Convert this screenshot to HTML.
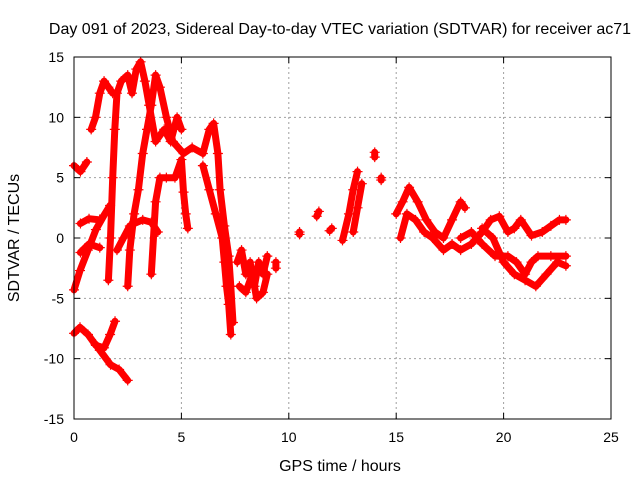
<!DOCTYPE html>
<html><head><meta charset="utf-8"><style>
body{margin:0;background:#fff}
svg text{font-family:"Liberation Sans",sans-serif;font-size:14px;fill:#000}
svg text.big{font-size:16px}
</style></head><body>
<svg id="c" width="640" height="480">
<rect width="640" height="480" fill="#fff"/>
<g id="grid"></g><g id="marks"></g><g id="axes"></g>
<text class="big" x="340" y="34" text-anchor="middle">Day 091 of 2023, Sidereal Day-to-day VTEC variation (SDTVAR) for receiver ac71</text>
<text class="big" x="340" y="471" text-anchor="middle">GPS time / hours</text>
<text class="big" transform="translate(19,238) rotate(-90)" text-anchor="middle">SDTVAR / TECUs</text>
</svg>
<script>
const xTicks=[0,5,10,15,20,25];
const yTicks=[-15,-10,-5,0,5,10,15];
const traceA1=[[0,-7.9],[0.28,-7.4],[0.65,-8.0],[1.02,-8.9],[1.4,-9.1],[1.68,-8.0],[1.91,-6.9]];
const traceA2=[[1.0,-8.8],[1.2,-9.3],[1.7,-10.5],[2.1,-10.9],[2.5,-11.8]];
const traceB1=[[0,-4.3],[0.28,-2.7],[0.65,-1],[1.02,0.7],[1.4,1.9],[1.68,2.7]];
const traceB2=[[0,6],[0.3,5.5],[0.6,6.3]];
const traceB3=[[0.3,1.2],[0.7,1.6],[1.2,1.5]];
const traceB4=[[0.3,-1.2],[0.7,-0.5],[1.2,-0.8]];
const traceC=[[1.6,-3.5],[1.7,0],[1.8,5],[1.9,9],[2.0,12],[2.2,13],[2.5,13.5],[2.7,12],[2.9,14],[3.1,14.6],[3.3,13],[3.5,11],[3.8,8],[4.2,9],[4.5,8],[4.8,10],[5.0,9]];
const traceD=[[2.5,-4],[2.6,-1],[2.8,2],[3.0,4],[3.2,7],[3.4,9],[3.6,11],[3.8,13.5],[4.0,12.5],[4.3,10],[4.6,8],[5.1,7],[5.5,7.5],[6.0,7],[6.3,9],[6.5,9.5],[6.7,7],[6.8,4],[7.0,1],[7.2,-1.5],[7.3,-4],[7.4,-7]];
const traceE=[[2.0,-1],[2.3,0],[2.6,1],[2.8,1.2],[3.2,1.5],[3.6,1.3],[3.9,0.5]];
const traceF=[[3.6,-3],[3.8,3],[4.0,5],[4.3,5],[4.7,5],[5.0,6.5],[5.1,3.8],[5.2,2],[5.3,0.8]];
const traceG=[[6.0,6],[6.3,4],[6.6,2],[6.9,0],[7.0,-2],[7.1,-4],[7.2,-5.5],[7.3,-8]];
const traceH=[[0.8,9],[1.0,10],[1.2,12],[1.4,13],[1.6,12.5],[1.8,12]];
const traceM=[[7.6,-2],[7.8,-1],[8.0,-3],[8.2,-2],[8.4,-4],[8.6,-2],[8.8,-3],[9.0,-1.5]];
const traceM2=[[7.7,-4],[8.0,-4.5],[8.3,-3],[8.5,-5],[8.8,-4.5],[9.0,-3]];
const traceN=[[9.4,-2],[9.4,-2.5]];
const traceO=[[10.5,0.5],[10.5,0.3]];
const traceP=[[11.3,1.8],[11.4,2.2]];
const traceQ=[[11.9,0.6],[12.0,0.8]];
const traceR=[[12.5,-0.2],[12.8,2],[13.0,4],[13.2,5.5]];
const traceS=[[13.0,0.5],[13.2,2.5],[13.4,4.5]];
const traceT=[[14.0,7.1],[14.0,6.7]];
const traceU=[[14.3,5],[14.3,4.8]];
const traceI=[[15.0,2],[15.3,3],[15.6,4.2],[16.0,3],[16.4,1.5],[16.8,0.5],[17.2,0],[17.6,1.5],[18.0,3],[18.2,2.5]];
const traceJ=[[15.2,0],[15.5,2],[15.9,1.5],[16.3,0.5],[16.7,0],[17.2,-1],[17.6,-0.5],[18.0,-1],[18.5,-0.5],[19.0,0.5],[19.4,1.5],[19.8,1.8],[20.2,0.5],[20.5,0.8],[20.8,1.5],[21.3,0.2],[21.8,0.5],[22.2,1],[22.6,1.5],[22.9,1.5]];
const traceK=[[18.0,0],[18.5,0.5],[19.0,-0.5],[19.6,-1.5],[20.2,-1.5],[20.6,-2],[21.0,-3],[21.3,-2],[21.6,-1.5],[22.2,-1.5],[22.9,-1.5]];
const traceL=[[19.0,0.8],[19.5,0],[20.0,-2],[20.5,-3],[21.0,-3.5],[21.5,-4],[22.0,-3],[22.5,-2],[22.9,-2.3]];
const traces=[traceA1,traceA2,traceB1,traceB2,traceB3,traceB4,traceC,traceD,traceE,traceF,traceG,traceH,traceM,traceM2,traceN,traceO,traceP,traceQ,traceR,traceS,traceT,traceU,traceI,traceJ,traceK,traceL];

const X0=74,X1=611,Y0=419,Y1=57;
const sx=h=>X0+(h-0)/(25-0)*(X1-X0);
const sy=v=>Y0-(v+15)/30*(Y0-Y1);
const NS='http://www.w3.org/2000/svg';
function mk(tag,attrs,parent){const e=document.createElementNS(NS,tag);for(const k in attrs)e.setAttribute(k,attrs[k]);parent.appendChild(e);return e;}
const grid=document.getElementById('grid'),axes=document.getElementById('axes'),marks=document.getElementById('marks');
xTicks.forEach(t=>{
  const x=sx(t);
  if(t>0&&t<25){const g=mk('line',{x1:x,x2:x,y1:Y1,y2:Y0,stroke:'#a0a0a0','stroke-dasharray':'2,3'},grid);
  
  }
  mk('line',{x1:x,x2:x,y1:Y0,y2:Y0-6,stroke:'#000'},axes);
  mk('line',{x1:x,x2:x,y1:Y1,y2:Y1+6,stroke:'#000'},axes);
  const tx=mk('text',{x:x,y:Y0+23,'text-anchor':'middle'},axes);tx.textContent=t;
  
  
});
yTicks.forEach(t=>{
  const y=sy(t);
  if(t>-15&&t<15){const g=mk('line',{x1:X0,x2:X1,y1:y,y2:y,stroke:'#a0a0a0','stroke-dasharray':'2,3'},grid);
  
  }
  mk('line',{x1:X0,x2:X0+6,y1:y,y2:y,stroke:'#000'},axes);
  mk('line',{x1:X1,x2:X1-6,y1:y,y2:y,stroke:'#000'},axes);
  const tx=mk('text',{x:X0-10,y:y+5,'text-anchor':'end'},axes);tx.textContent=t;
  
  
});
const fr=mk('rect',{x:X0,y:Y1,width:X1-X0,height:Y0-Y1,fill:'none',stroke:'#000'},axes);


traces.forEach(tr=>{
  const d=tr.map((p,i)=>(i?'L':'M')+sx(p[0]).toFixed(1)+' '+sy(p[1]).toFixed(1)).join(' ');
  const pl=mk('path',{d:d,fill:'none',stroke:'#f00','stroke-width':7,'stroke-linejoin':'round','stroke-linecap':'round'},marks);
  
  
  let cd='';
  tr.forEach(p=>{const x=sx(p[0]),y=sy(p[1]);cd+=`M${x-5} ${y}h10M${x} ${y-5}v10`;});
  const cr=mk('path',{d:cd,stroke:'#f00','stroke-width':1.2,fill:'none'},marks);
  
  
});
</script>
</body></html>
